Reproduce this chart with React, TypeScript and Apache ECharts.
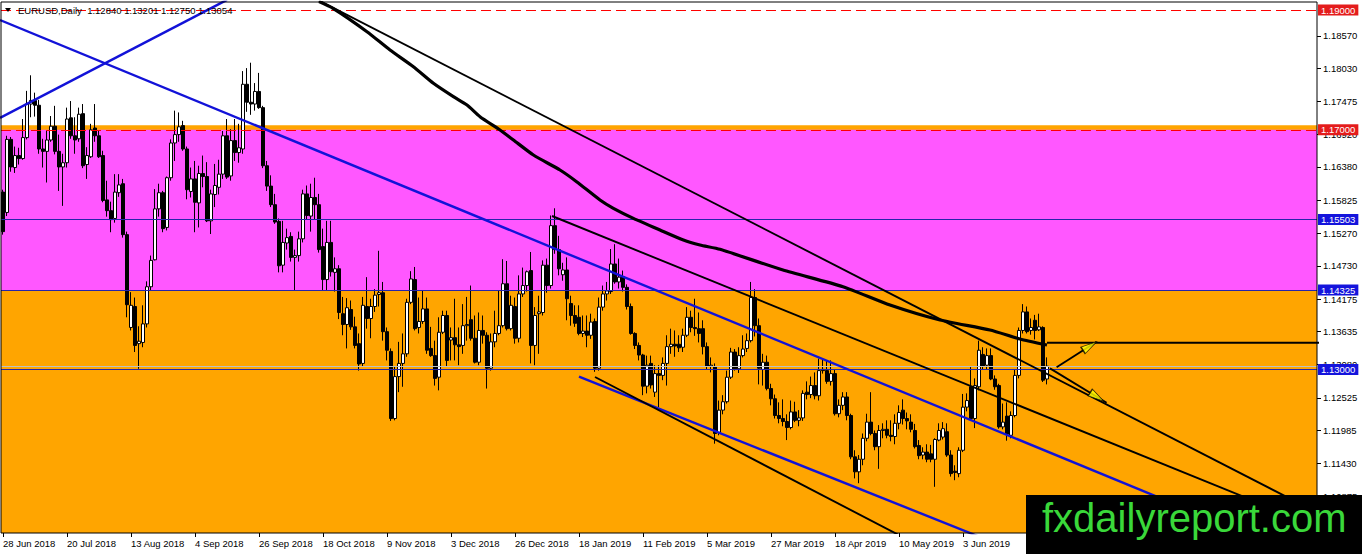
import { useEffect, useRef } from "react";
import * as echarts from "echarts";

const SYMBOL = "EURUSD";
const PERIOD = "Daily";
const FIRST_DAY = "2018-06-28";
const NO_BAR_DAYS = ["2018-12-25", "2019-01-01"];
const EMPTY_BARS = 67; // chart shift area on the right
const MONTHS = ["Jan", "Feb", "Mar", "Apr", "May", "Jun", "Jul", "Aug", "Sep", "Oct", "Nov", "Dec"];

// daily bars: [open, high, low, close]
const CANDLES: number[][] = [
  [1.1596, 1.16, 1.1525, 1.153], [1.1562, 1.169, 1.1556, 1.1684], [1.1684, 1.1688, 1.163, 1.1638], [1.1637, 1.1672, 1.1628, 1.1657],
  [1.1657, 1.167, 1.1642, 1.1652], [1.1652, 1.1718, 1.165, 1.1687], [1.1687, 1.1765, 1.1684, 1.1743], [1.1743, 1.1791, 1.1721, 1.1749],
  [1.1749, 1.1762, 1.1722, 1.1741], [1.1741, 1.175, 1.166, 1.1668], [1.1668, 1.1685, 1.1637, 1.1664], [1.1664, 1.1698, 1.1612, 1.1683],
  [1.1683, 1.1723, 1.168, 1.1706], [1.1706, 1.174, 1.1659, 1.1664], [1.1664, 1.1692, 1.1598, 1.1638], [1.1638, 1.166, 1.1573, 1.1645],
  [1.1645, 1.1737, 1.1637, 1.1718], [1.172, 1.1748, 1.1685, 1.169], [1.169, 1.1721, 1.166, 1.1683], [1.1685, 1.1737, 1.168, 1.1726],
  [1.1727, 1.1743, 1.1636, 1.164], [1.1642, 1.1671, 1.1618, 1.1657], [1.1655, 1.171, 1.1653, 1.17], [1.1703, 1.1743, 1.168, 1.169],
  [1.169, 1.1698, 1.1653, 1.1655], [1.1657, 1.1665, 1.1579, 1.1582], [1.1583, 1.1615, 1.1555, 1.1565], [1.1565, 1.158, 1.1529, 1.155],
  [1.1552, 1.1626, 1.1545, 1.1596], [1.1595, 1.1626, 1.1588, 1.1608], [1.161, 1.1618, 1.152, 1.1525], [1.1525, 1.153, 1.1387, 1.1408],
  [1.137, 1.1429, 1.1365, 1.1407], [1.1405, 1.142, 1.1329, 1.134], [1.1343, 1.1372, 1.1301, 1.1347], [1.1345, 1.1407, 1.1337, 1.1376],
  [1.1376, 1.1447, 1.137, 1.1438], [1.1438, 1.149, 1.1432, 1.1482], [1.1483, 1.1601, 1.1482, 1.1568], [1.1568, 1.161, 1.1555, 1.1595],
  [1.1595, 1.1598, 1.1529, 1.1535], [1.1537, 1.1622, 1.1532, 1.162], [1.162, 1.1684, 1.1615, 1.1678], [1.1678, 1.1732, 1.1648, 1.1692],
  [1.1692, 1.1729, 1.168, 1.1705], [1.1707, 1.1715, 1.1665, 1.1668], [1.1668, 1.1672, 1.1584, 1.16], [1.1597, 1.1637, 1.1587, 1.1618],
  [1.1618, 1.1648, 1.1529, 1.1579], [1.1578, 1.164, 1.1537, 1.1627], [1.1627, 1.1657, 1.1604, 1.1622], [1.1622, 1.1646, 1.1546, 1.1548],
  [1.1548, 1.16, 1.1526, 1.1593], [1.1592, 1.1643, 1.1571, 1.1607], [1.1604, 1.165, 1.1592, 1.1626], [1.1626, 1.1698, 1.1618, 1.169],
  [1.169, 1.1718, 1.1618, 1.1621], [1.1623, 1.1701, 1.1615, 1.1682], [1.1682, 1.1718, 1.1648, 1.1662], [1.1662, 1.171, 1.1645, 1.167],
  [1.1668, 1.1798, 1.166, 1.1776], [1.1776, 1.1803, 1.173, 1.1746], [1.1746, 1.1812, 1.1725, 1.1743], [1.1743, 1.1778, 1.1732, 1.1764],
  [1.1764, 1.1795, 1.1735, 1.1737], [1.1737, 1.174, 1.1636, 1.164], [1.164, 1.1648, 1.1598, 1.1606], [1.1606, 1.1624, 1.1571, 1.1575],
  [1.1575, 1.1593, 1.1543, 1.1546], [1.1547, 1.1552, 1.1462, 1.1473], [1.1474, 1.1548, 1.1462, 1.1512], [1.1511, 1.1535, 1.15, 1.152],
  [1.1522, 1.1529, 1.148, 1.1487], [1.1487, 1.15, 1.1432, 1.149], [1.149, 1.153, 1.148, 1.1518], [1.1518, 1.16, 1.1512, 1.1593],
  [1.1593, 1.1607, 1.155, 1.1557], [1.1556, 1.161, 1.153, 1.1587], [1.1587, 1.162, 1.155, 1.1575], [1.1575, 1.1593, 1.1495, 1.15],
  [1.1505, 1.1535, 1.1432, 1.145], [1.145, 1.1548, 1.1432, 1.1512], [1.1512, 1.1548, 1.1455, 1.1463], [1.1462, 1.1487, 1.143, 1.1468],
  [1.1468, 1.1474, 1.1384, 1.1395], [1.1393, 1.1421, 1.1357, 1.1375], [1.1375, 1.1419, 1.1335, 1.1403], [1.14, 1.1415, 1.1366, 1.1371],
  [1.1371, 1.1388, 1.1335, 1.134], [1.1343, 1.136, 1.1298, 1.1309], [1.131, 1.1421, 1.1305, 1.1407], [1.1405, 1.1454, 1.1368, 1.1385],
  [1.1385, 1.1418, 1.1352, 1.1405], [1.1405, 1.1434, 1.1396, 1.1424], [1.1425, 1.1498, 1.1405, 1.1428], [1.1428, 1.1446, 1.1348, 1.1363],
  [1.1363, 1.137, 1.1315, 1.1332], [1.133, 1.1335, 1.1214, 1.1218], [1.1218, 1.1304, 1.1215, 1.1288], [1.1288, 1.1346, 1.1262, 1.131],
  [1.131, 1.136, 1.1271, 1.1326], [1.1326, 1.1418, 1.1321, 1.1412], [1.1412, 1.1464, 1.1409, 1.1451], [1.145, 1.1471, 1.1365, 1.1368],
  [1.137, 1.142, 1.136, 1.138], [1.138, 1.1432, 1.1376, 1.1401], [1.1401, 1.142, 1.1326, 1.1332], [1.1335, 1.1371, 1.1321, 1.1323],
  [1.1323, 1.1348, 1.1273, 1.1285], [1.1287, 1.1387, 1.1265, 1.1362], [1.1362, 1.1398, 1.1359, 1.139], [1.139, 1.1398, 1.1304, 1.1315],
  [1.1349, 1.137, 1.1315, 1.1353], [1.1353, 1.1418, 1.1315, 1.1341], [1.1341, 1.137, 1.1307, 1.1338], [1.134, 1.1409, 1.1326, 1.1373],
  [1.1373, 1.1421, 1.1348, 1.1375], [1.1383, 1.144, 1.1348, 1.1352], [1.1352, 1.139, 1.131, 1.1312], [1.1312, 1.1395, 1.1307, 1.1365],
  [1.1365, 1.139, 1.1343, 1.1357], [1.1357, 1.1362, 1.1268, 1.1302], [1.1302, 1.136, 1.1298, 1.1346], [1.1346, 1.1398, 1.1337, 1.136],
  [1.136, 1.1432, 1.1357, 1.1373], [1.1373, 1.1484, 1.137, 1.1443], [1.1443, 1.1481, 1.1365, 1.1368], [1.1368, 1.1423, 1.1365, 1.1407],
  [1.1405, 1.142, 1.1343, 1.1352], [1.1352, 1.1457, 1.1345, 1.1426], [1.1426, 1.147, 1.1421, 1.144], [1.144, 1.1465, 1.143, 1.1463],
  [1.1465, 1.1496, 1.131, 1.134], [1.134, 1.1404, 1.1307, 1.139], [1.1393, 1.1423, 1.1326, 1.1396], [1.1395, 1.1482, 1.139, 1.1474],
  [1.1474, 1.1485, 1.1428, 1.144], [1.144, 1.1557, 1.1435, 1.154], [1.154, 1.1569, 1.1493, 1.15], [1.15, 1.1523, 1.1457, 1.1468],
  [1.1458, 1.1478, 1.1448, 1.1466], [1.1466, 1.1487, 1.1382, 1.1418], [1.141, 1.1423, 1.1373, 1.139], [1.139, 1.1407, 1.1371, 1.1377],
  [1.1387, 1.1407, 1.1357, 1.136], [1.136, 1.139, 1.1354, 1.1364], [1.1364, 1.139, 1.1337, 1.1357], [1.1357, 1.1393, 1.1351, 1.1379],
  [1.138, 1.1385, 1.1296, 1.1302], [1.1302, 1.142, 1.1298, 1.1404], [1.1404, 1.144, 1.1398, 1.1426], [1.1426, 1.1446, 1.1415, 1.1431],
  [1.143, 1.1501, 1.1426, 1.1476], [1.1476, 1.1509, 1.1443, 1.1446], [1.1446, 1.1485, 1.1435, 1.1454], [1.1455, 1.1465, 1.143, 1.1437],
  [1.1437, 1.1442, 1.14, 1.1405], [1.1405, 1.141, 1.1358, 1.136], [1.136, 1.1362, 1.1334, 1.134], [1.134, 1.1345, 1.1315, 1.1324],
  [1.1324, 1.1326, 1.1257, 1.1272], [1.1272, 1.1323, 1.126, 1.1307], [1.131, 1.1323, 1.1268, 1.1274], [1.1262, 1.1307, 1.1254, 1.1293],
  [1.1293, 1.1307, 1.1237, 1.129], [1.129, 1.132, 1.1282, 1.131], [1.131, 1.1357, 1.1273, 1.1338], [1.1338, 1.1368, 1.1326, 1.1342],
  [1.1342, 1.1365, 1.1321, 1.1339], [1.1342, 1.1357, 1.1329, 1.1336], [1.1337, 1.1368, 1.1329, 1.1357], [1.1357, 1.1404, 1.1354, 1.1387],
  [1.1387, 1.1398, 1.1362, 1.137], [1.137, 1.1418, 1.1356, 1.1368], [1.1368, 1.1395, 1.1345, 1.136], [1.1368, 1.1382, 1.1325, 1.1338],
  [1.1338, 1.1345, 1.13, 1.1305], [1.1305, 1.132, 1.1295, 1.1307], [1.1304, 1.131, 1.1176, 1.1193], [1.1195, 1.1248, 1.119, 1.1232],
  [1.1232, 1.1257, 1.1225, 1.1246], [1.1246, 1.1298, 1.1243, 1.1287], [1.1287, 1.1336, 1.1284, 1.1329], [1.1329, 1.1334, 1.1298, 1.1301],
  [1.1301, 1.1337, 1.1294, 1.1323], [1.1323, 1.1357, 1.132, 1.1334], [1.1335, 1.136, 1.1329, 1.1348], [1.1348, 1.1446, 1.1345, 1.142],
  [1.142, 1.1434, 1.1355, 1.1373], [1.1373, 1.1385, 1.1275, 1.1302], [1.13, 1.1326, 1.1273, 1.1312], [1.1312, 1.1323, 1.1265, 1.1268],
  [1.1268, 1.1276, 1.124, 1.1251], [1.1251, 1.1258, 1.1218, 1.1223], [1.1223, 1.1245, 1.121, 1.1218], [1.1218, 1.125, 1.1205, 1.1213],
  [1.1213, 1.1225, 1.1182, 1.1203], [1.1203, 1.1248, 1.12, 1.1229], [1.1229, 1.1246, 1.1212, 1.1215], [1.1215, 1.1232, 1.1205, 1.1219],
  [1.1219, 1.1265, 1.1214, 1.126], [1.1262, 1.128, 1.125, 1.1258], [1.1258, 1.1288, 1.1252, 1.1273], [1.1273, 1.1295, 1.125, 1.1256],
  [1.1256, 1.1318, 1.1248, 1.1298], [1.13, 1.1318, 1.1293, 1.1298], [1.1298, 1.1315, 1.1276, 1.128], [1.128, 1.1315, 1.1273, 1.1293],
  [1.1293, 1.13, 1.1223, 1.1226], [1.1226, 1.125, 1.122, 1.124], [1.124, 1.1262, 1.1232, 1.1254], [1.1254, 1.1262, 1.1215, 1.1223],
  [1.1223, 1.1226, 1.115, 1.1154], [1.1154, 1.1165, 1.1118, 1.1129], [1.1129, 1.1157, 1.111, 1.115], [1.115, 1.1193, 1.114, 1.1185],
  [1.1185, 1.1226, 1.118, 1.1212], [1.1212, 1.1262, 1.119, 1.1193], [1.1193, 1.1198, 1.1165, 1.1171], [1.1171, 1.1207, 1.1134, 1.1198],
  [1.1198, 1.121, 1.1185, 1.12], [1.12, 1.1215, 1.1185, 1.119], [1.119, 1.1215, 1.118, 1.1188], [1.1188, 1.1225, 1.1175, 1.121],
  [1.121, 1.124, 1.12, 1.1228], [1.1232, 1.125, 1.1208, 1.1218], [1.1218, 1.1228, 1.12, 1.1214], [1.1212, 1.1225, 1.1195, 1.12],
  [1.1198, 1.1209, 1.1168, 1.1171], [1.1173, 1.1182, 1.115, 1.1156], [1.1157, 1.117, 1.115, 1.1162], [1.1162, 1.1175, 1.1145, 1.115],
  [1.1159, 1.1174, 1.1145, 1.115], [1.115, 1.1185, 1.1104, 1.1183], [1.1182, 1.121, 1.118, 1.1198], [1.1187, 1.1212, 1.1183, 1.1201],
  [1.1196, 1.121, 1.1154, 1.1157], [1.1157, 1.1165, 1.1121, 1.1126], [1.113, 1.114, 1.1115, 1.1128], [1.1126, 1.117, 1.112, 1.1165],
  [1.1165, 1.1259, 1.1162, 1.1237], [1.1237, 1.126, 1.123, 1.1248], [1.1271, 1.1305, 1.1215, 1.1218], [1.1218, 1.1285, 1.1202, 1.1273],
  [1.1271, 1.1348, 1.1265, 1.1332], [1.1325, 1.1337, 1.13, 1.1305], [1.1307, 1.1335, 1.13, 1.1323], [1.1323, 1.1335, 1.1282, 1.1284],
  [1.1284, 1.129, 1.1266, 1.1271], [1.1273, 1.1276, 1.1201, 1.1204], [1.1204, 1.1243, 1.12, 1.1212], [1.1222, 1.1245, 1.1181, 1.1192],
  [1.119, 1.123, 1.1185, 1.1223], [1.1223, 1.13, 1.122, 1.129], [1.129, 1.137, 1.1285, 1.1365], [1.1365, 1.1409, 1.136, 1.1396],
  [1.1396, 1.1405, 1.136, 1.1363], [1.1365, 1.1385, 1.1358, 1.137], [1.1382, 1.1391, 1.135, 1.1365], [1.1366, 1.1393, 1.1364, 1.1371],
  [1.137, 1.1372, 1.1279, 1.1282], [1.1284, 1.13201, 1.1275, 1.13054],
];

const PRICE_MIN = 1.102688;
const PRICE_MAX = 1.191336;
const PRICE_TICKS = [1.1857, 1.1803, 1.17475, 1.1692, 1.1638, 1.15825, 1.1527, 1.1473, 1.14175, 1.13635, 1.1308, 1.12525, 1.11985, 1.1143, 1.10875];
const RED_LEVELS = [1.19, 1.17];
const BLUE_LEVELS = [1.15503, 1.14325, 1.13];
const ORANGE_ZONE = [1.17075, PRICE_MIN];
const MAGENTA_ZONE = [1.17, 1.14325];

// trendlines, end points as [bar index, price]
const BLUE_LINES = [
  [[-0.75, 1.172], [56, 1.1917]],
  [[-0.75, 1.18833], [324.25, 1.09891]],
  [[144, 1.12878], [249.25, 1.10068]],
];
const BLACK_LINES = [
  [[148, 1.12873], [224.25, 1.10225]],
  [[137.25, 1.15561], [329.25, 1.10356]],
  [[78.75, 1.19167], [329.25, 1.10586]],
];
// long moving average
const MA_LINE = [
  [79, 1.1914], [82.5, 1.19028], [91, 1.18638], [96.75, 1.18332], [102.6, 1.18053], [107.6, 1.17776],
  [112.6, 1.17553], [116, 1.17414], [119.25, 1.17219], [124.25, 1.16997], [127.6, 1.1683], [132.6, 1.16579],
  [139.25, 1.16329], [143.4, 1.16134], [149.25, 1.15828], [152.6, 1.15689], [157.6, 1.15522], [164.25, 1.15327],
  [170.1, 1.1516], [174.25, 1.15077], [179.25, 1.15005], [195, 1.14659], [210, 1.14381], [221.75, 1.14075],
  [234.25, 1.13825], [246.75, 1.13658], [254.25, 1.13508], [261, 1.13408],
];
const RAY_LINE = [[261, 1.13446], [339.75, 1.13446]];
// [start, tip]
const ARROWS = [
  [[263.4, 1.13035], [273.4, 1.13462]],
  [[261.75, 1.13018], [275.9, 1.12444]],
];
const WATERMARK = "fxdailyreport.com";

function buildDates(n: number) {
  const out: string[] = [];
  const d = new Date(FIRST_DAY + "T00:00:00Z");
  while (out.length < n) {
    const iso = d.toISOString().slice(0, 10);
    const wd = d.getUTCDay();
    if (wd !== 0 && wd !== 6 && !NO_BAR_DAYS.includes(iso)) {
      out.push(`${d.getUTCDate()} ${MONTHS[d.getUTCMonth()]} ${d.getUTCFullYear()}`);
    }
    d.setUTCDate(d.getUTCDate() + 1);
  }
  return out;
}

const FONT = "'Liberation Sans', Arial, sans-serif";

export default function App() {
  const ref = useRef<HTMLDivElement>(null);

  useEffect(() => {
    if (!ref.current) return;
    const chart = echarts.init(ref.current, undefined, { renderer: "svg" });
    const dates = buildDates(CANDLES.length);
    const categories = [...dates, ...Array(EMPTY_BARS).fill("")];
    const last = CANDLES[CANDLES.length - 1];
    const title = `${SYMBOL},${PERIOD}  ${last.map((v) => v.toFixed(5)).join(" ")}`;

    const trend = (data: number[][], color: string, width: number, extra = {}) => ({
      type: "line" as const,
      xAxisIndex: 1,
      data,
      symbol: "none",
      silent: true,
      z: 5,
      lineStyle: { color, width },
      ...extra,
    });

    const boxLabel = (bg: string) => ({
      show: true,
      position: "end" as const,
      distance: 1,
      formatter: (p: any) => Number(p.value).toFixed(5),
      color: "#fff",
      backgroundColor: bg,
      padding: [1, 3, 0, 3],
      fontSize: 9.5,
      fontFamily: FONT,
    });

    const arrowHeads = ARROWS.map(([s, t]) => [t[0] + (s[0] - t[0]) * 0.17, t[1] + (s[1] - t[1]) * 0.17]);
    const arrowRotate = [-57.6, -122.5];

    chart.setOption({
      animation: false,
      backgroundColor: "#fff",
      textStyle: { fontFamily: FONT },
      grid: {
        left: 1,
        right: 45,
        top: 2,
        bottom: 21,
        show: true,
        z: 10,
        backgroundColor: "transparent",
        borderColor: "#000",
        borderWidth: 1,
      },
      xAxis: [
        {
          type: "category",
          data: categories,
          boundaryGap: true,
          axisLine: { show: false, onZero: false },
          axisTick: { show: true, interval: 15, alignWithLabel: true, length: 4, lineStyle: { color: "#000" } },
          axisLabel: { interval: 15, align: "left", margin: 5, color: "#000", fontSize: 9.5, fontFamily: FONT },
          splitLine: { show: false },
        },
        { type: "value", show: false, min: -0.5, max: categories.length - 0.5, axisLine: { onZero: false } },
      ],
      yAxis: {
        type: "value",
        position: "right",
        min: PRICE_MIN,
        max: PRICE_MAX,
        axisLine: { show: false, onZero: false },
        axisTick: { show: true, length: 4, customValues: PRICE_TICKS, lineStyle: { color: "#000" } },
        axisLabel: {
          customValues: PRICE_TICKS,
          margin: 6,
          color: "#000",
          fontSize: 9.5,
          fontFamily: FONT,
          formatter: (v: number) => v.toFixed(5),
        },
        splitLine: { show: false },
      },
      series: [
        {
          type: "line",
          name: "zones",
          data: [],
          z: 1,
          silent: true,
          markArea: {
            silent: true,
            data: [
              [{ yAxis: ORANGE_ZONE[0], itemStyle: { color: "#ffa500" } }, { yAxis: ORANGE_ZONE[1] }],
              [{ yAxis: MAGENTA_ZONE[0], itemStyle: { color: "#ff57ff" } }, { yAxis: MAGENTA_ZONE[1] }],
            ],
          },
        },
        {
          type: "candlestick",
          name: SYMBOL,
          data: CANDLES.map(([o, h, l, c]) => [o, c, l, h]),
          barWidth: 3,
          z: 3,
          silent: true,
          itemStyle: { color: "#fff", color0: "#000", borderColor: "#000", borderColor0: "#000", borderWidth: 1 },
        },
        {
          type: "line",
          name: "levels",
          xAxisIndex: 1,
          data: [],
          z: 4,
          silent: true,
          markLine: {
            silent: true,
            precision: 5,
            symbol: ["none", "none"],
            animation: false,
            data: [
              ...RED_LEVELS.map((v) => ({
                yAxis: v,
                lineStyle: { color: "#ff0000", width: 1, type: [10, 5] },
                label: boxLabel("#e41c1c"),
              })),
              ...BLUE_LEVELS.map((v) => ({
                yAxis: v,
                lineStyle: { color: "#2525a8", width: 1, type: "solid" },
                label: boxLabel("#1414dc"),
              })),
              { yAxis: last[3], lineStyle: { color: "#c0c0c0", width: 1, type: "solid" }, label: { show: false } },
            ],
          },
        },
        trend(MA_LINE, "#000", 3.2, { smooth: 0.2 }),
        ...BLUE_LINES.map((l) => trend(l, "#1212d8", 2.4)),
        ...BLACK_LINES.map((l) => trend(l, "#000", 1.9)),
        trend(RAY_LINE, "#000", 1.9, { clip: false }),
        ...ARROWS.map((l) => trend(l, "#000", 1.9)),
        {
          type: "scatter",
          xAxisIndex: 1,
          z: 6,
          silent: true,
          data: arrowHeads.map((p, i) => ({ value: p, symbolRotate: arrowRotate[i] })),
          symbol: "triangle",
          symbolSize: [8, 16],
          itemStyle: { color: "#ffff00", borderColor: "#000", borderWidth: 1 },
        },
      ],
      graphic: [
        { type: "polygon", z: 100, shape: { points: [[5, 8], [11, 8], [8, 12]] }, style: { fill: "#000" } },
        {
          type: "text",
          z: 100,
          x: 18,
          y: 10.5,
          style: { text: title, fill: "#000", font: `9.5px ${FONT}`, verticalAlign: "middle" },
        },
        { type: "rect", z: 100, x: 1026, y: 495, shape: { width: 336, height: 59 }, style: { fill: "#000" } },
        {
          type: "text",
          z: 101,
          x: 1042,
          y: 518,
          style: { text: WATERMARK, fill: "#3ad83a", font: `40px ${FONT}`, verticalAlign: "middle" },
        },
      ],
    });

    return () => chart.dispose();
  }, []);

  return <div ref={ref} style={{ position: "fixed", left: 0, top: 0, width: 1362, height: 554 }} />;
}
